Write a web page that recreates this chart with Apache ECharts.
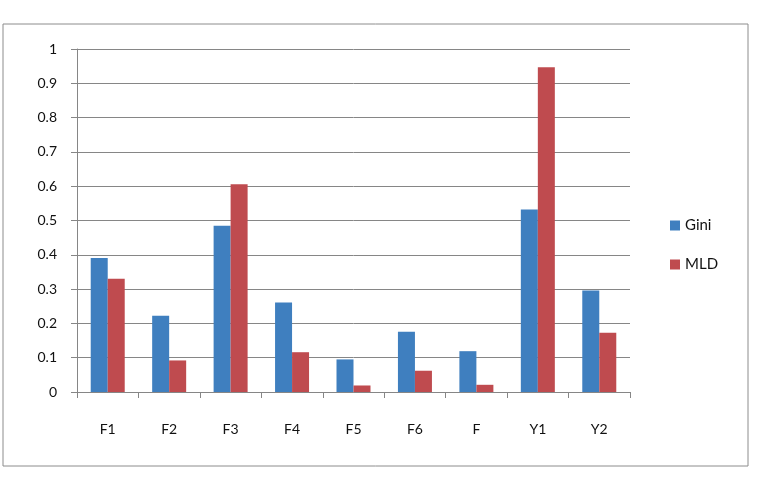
<!DOCTYPE html>
<html>
<head>
<meta charset="utf-8">
<script src="https://cdn.jsdelivr.net/npm/echarts@6/dist/echarts.min.js"></script>
<style>
  html, body { margin: 0; padding: 0; background: #fff; }
  #chart { width: 757px; height: 480px; }
</style>
</head>
<body>
<div id="chart"></div>
<script>
// data
var categories = ['F1', 'F2', 'F3', 'F4', 'F5', 'F6', 'F', 'Y1', 'Y2'];
var gini = [0.391, 0.222, 0.485, 0.261, 0.095, 0.176, 0.119, 0.532, 0.296];
var mld = [0.330, 0.092, 0.606, 0.116, 0.019, 0.062, 0.021, 0.947, 0.173];
var yTicks = [0, 0.1, 0.2, 0.3, 0.4, 0.5, 0.6, 0.7, 0.8, 0.9, 1];

var myChart = echarts.init(document.getElementById('chart'));
var font = 'Lato, "Open Sans", sans-serif';

var option = {
  animation: false,
  textStyle: { fontFamily: font },
  graphic: [{
    type: 'rect',
    shape: { x: 3, y: 24, width: 745, height: 442 },
    style: { fill: 'none', stroke: '#8c8c8c', lineWidth: 1 }
  }],
  grid: { left: 77, right: 127, top: 49, bottom: 88 },
  legend: {
    orient: 'vertical',
    left: 665,
    top: 213,
    itemWidth: 10,
    itemHeight: 10,
    itemGap: 24,
    icon: 'rect',
    textStyle: { fontSize: 15, color: '#111', fontFamily: font },
    data: ['Gini', 'MLD']
  },
  xAxis: {
    type: 'category',
    data: categories,
    axisLine: { lineStyle: { color: '#868686' } },
    axisTick: { show: true, length: 6, alignWithLabel: false, lineStyle: { color: '#868686' } },
    axisLabel: { fontSize: 14, color: '#111', margin: 30 }
  },
  yAxis: {
    type: 'value',
    min: yTicks[0],
    max: yTicks[yTicks.length - 1],
    interval: 0.1,
    axisLine: { show: true, lineStyle: { color: '#868686' } },
    axisTick: { show: true, length: 6, lineStyle: { color: '#868686' } },
    splitLine: { lineStyle: { color: '#868686', width: 1 } },
    axisLabel: {
      fontSize: 14, color: '#111', margin: 20,
      formatter: function (v) { return String(Math.round(v * 10) / 10); }
    }
  },
  series: [
    {
      name: 'Gini', type: 'bar', data: gini,
      barWidth: 17, barGap: '0%',
      itemStyle: { color: '#3f7fbf' }
    },
    {
      name: 'MLD', type: 'bar', data: mld,
      barWidth: 17, barGap: '0%',
      itemStyle: { color: '#bf4b4f' }
    }
  ]
};
option && myChart.setOption(option);
</script>
</body>
</html>
